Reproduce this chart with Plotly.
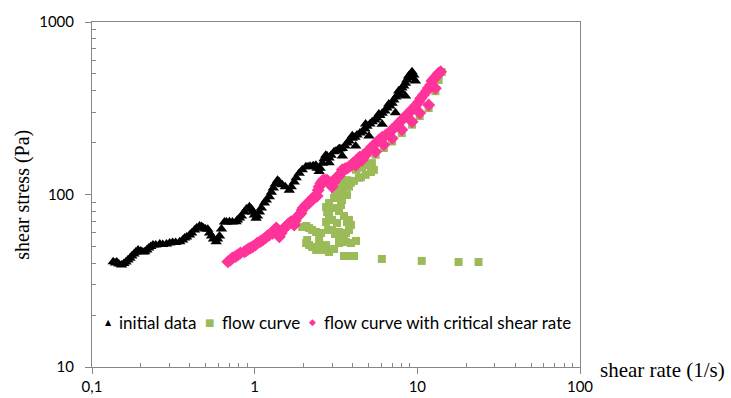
import plotly.graph_objects as go

# Shear rate (1/s) and shear stress (Pa) for the three measurement series
initial_rate = [0.135, 0.142, 0.152, 0.1615, 0.171, 0.181, 0.192, 0.211, 0.223, 0.237,
                0.261, 0.287, 0.313, 0.346, 0.371, 0.398, 0.427, 0.458, 0.485, 0.515,
                0.543, 0.580, 0.608, 0.625, 0.652, 0.700, 0.769, 0.806, 0.865, 0.928,
                0.968, 1.020, 1.069, 1.147, 1.230, 1.302, 1.383, 1.478, 1.632, 1.751,
                1.878, 2.065, 2.193, 2.377, 2.490, 2.608, 2.736, 2.867, 3.076, 3.254,
                3.458, 3.695, 3.982, 4.256, 4.586, 4.898, 5.279, 5.640, 6.078, 6.495,
                7.000, 7.375, 7.693, 8.026, 8.454, 8.858, 9.28, 9.4,
                2.736, 3.301, 3.982, 4.811, 5.80, 6.68, 7.693, 8.858,
                2.867, 3.458, 4.177, 5.040, 6.078, 7.34, 8.454, 9.736,
                0.1393, 0.1463, 0.1570, 0.1661, 0.1757, 0.1859, 0.1995, 0.2052, 0.2172, 0.2298,
                0.2465, 0.2721, 0.3003, 0.3268, 0.3608, 0.3817, 0.4098, 0.4395, 0.4718, 0.4990,
                0.5281, 0.5585, 0.5908, 0.6710, 0.7302, 0.7836, 0.8291, 0.8897, 0.9546, 0.9959,
                1.039, 1.099, 1.179, 1.266, 1.339, 1.417, 1.542, 1.678, 1.800, 1.960,
                2.132, 2.288, 2.420, 2.525, 2.672, 2.788, 2.949, 3.163, 3.347, 3.593,
                3.801, 4.137, 4.439, 4.764, 5.111, 5.484, 5.886, 6.317, 6.776, 7.169,
                7.586, 7.911, 8.254, 8.612, 9.112, 9.506]
initial_stress = [40.8, 40.6, 39.0, 40.6, 42.7, 45.2, 47.7, 46.6, 49.0, 50.9,
                  51.6, 51.6, 52.7, 53.2, 55.9, 58.2, 62.3, 65.7, 63.9, 62.9,
                  57.5, 53.2, 57.5, 63.1, 69.3, 69.6, 69.6, 73.1, 79.2, 85.0,
                  79.2, 72.8, 79.2, 89.3, 97.1, 109, 121, 114, 106, 118,
                  133, 145, 146, 148, 136, 152, 169, 163, 177, 181,
                  185, 199, 212, 221, 231, 249, 264, 278, 296, 317,
                  338, 367, 386, 414, 441, 480, 515, 474,
                  161, 184, 219, 256, 293, 335, 400, 488,
                  153, 167, 191, 218, 255, 298, 372, 455,
                  40.1, 39.6, 39.8, 41.7, 44.0, 46.4, 47.1, 46.4, 47.7, 49.9,
                  50.9, 51.3, 52.3, 52.7, 54.5, 56.7, 59.8, 63.9, 65.2, 63.1,
                  59.8, 55.2, 55.2, 69.3, 69.3, 71.2, 75.1, 82.4, 82.4, 76.1,
                  75.1, 83.5, 92.9, 103, 115, 118, 111, 111, 125, 139,
                  145, 147, 142, 142, 161, 167, 169, 179, 184, 191,
                  204, 215, 227, 240, 256, 270, 287, 305, 326, 353,
                  377, 398, 426, 461, 499, 493]

flow_rate = [3.119, 3.395, 3.695, 4.177, 4.764, 5.539, 6.226, 7.000, 8.026, 9.28,
             10.34, 11.74, 12.91, 13.52, 14.11,
             4.811, 5.257, 4.565, 4.196, 5.408, 4.811, 4.079, 3.444, 3.643, 3.801,
             3.163, 3.444, 3.301, 2.867, 3.444, 3.076, 2.788, 2.748, 3.542, 3.801,
             2.991, 2.748, 3.208, 3.910, 1.960, 2.073, 2.163, 2.387, 2.991, 3.301,
             3.643, 3.801, 2.102, 2.490, 2.748, 3.301, 3.643, 4.196, 2.163, 2.073,
             2.387, 2.597, 2.867, 3.542, 3.801, 4.079, 6.053, 10.64, 17.93, 23.77,
             2.256, 2.561, 2.827, 3.119, 2.256, 2.490, 3.076, 3.301, 3.910, 3.542,
             2.867, 3.301, 3.695, 3.076, 3.395, 3.910, 4.376, 4.256, 5.040, 5.183,
             4.502, 3.695, 3.208]
flow_stress = [103, 112, 121, 142, 156, 170, 186, 203, 227, 254,
               285, 317, 397, 461, 513,
               174, 152, 144, 139, 139, 130, 120, 121, 111, 111,
               106, 102, 98.0, 89.3, 92.9, 83.5, 79.2, 84.6, 75.1, 71.2,
               71.2, 69.3, 68.4, 66.6, 64.8, 65.7, 63.9, 60.6, 62.3, 60.6,
               59.8, 62.3, 54.5, 54.5, 50.9, 54.5, 53.0, 53.8, 50.9, 52.3,
               47.7, 47.7, 46.4, 44.0, 44.0, 44.0, 42.3, 41.2, 40.6, 40.6,
               62.3, 59.8, 62.3, 59.0, 49.6, 50.3, 48.3, 52.3, 52.3, 56.0,
               75.1, 80.2, 69.3, 95.4, 86.9, 117, 125, 142, 148, 135,
               126, 99.3, 111]

critical_rate = [0.684, 0.730, 0.787, 0.865, 0.915, 0.972, 1.039, 1.119, 1.196, 1.290,
                 1.358, 1.417, 1.478, 1.557, 1.671, 1.751, 1.826, 1.924, 1.987, 2.065,
                 2.163, 2.266, 2.377, 2.455, 2.551, 2.635, 2.788, 2.991, 3.150, 3.301,
                 3.458, 3.695, 3.910, 4.177, 4.439, 4.811, 5.040, 5.539, 6.078, 6.68,
                 7.34, 7.80, 8.45, 8.86, 9.37, 10.2, 10.9, 11.7, 12.3, 13.0,
                 13.5, 13.9,
                 4.177, 4.565, 5.539, 6.226, 7.000, 8.026, 9.28, 10.34, 11.74, 12.91,
                 0.7098, 0.7616, 0.8173, 0.8897, 0.9412, 1.010, 1.084, 1.163, 1.230, 1.320,
                 1.457, 1.520, 1.608, 1.702, 1.775, 1.878, 1.960, 2.102, 2.225, 2.321,
                 2.420, 2.490, 2.597, 2.710, 2.908, 3.076, 3.208, 3.395, 3.593, 3.801,
                 4.022, 4.315, 4.630, 4.898, 5.257, 5.80, 6.407, 6.970, 7.586, 8.139,
                 8.612, 9.112, 9.777, 10.49, 11.42, 12.08, 12.60, 13.33]
critical_stress = [40.8, 42.9, 44.6, 46.6, 48.3, 49.8, 52.3, 54.5, 57.5, 59.6,
                   63.9, 56.9, 62.3, 65.1, 69.6, 66.6, 74.1, 77.8, 83.5, 86.9,
                   89.3, 95.1, 97.1, 106, 116, 121, 121, 111, 124, 128,
                   139, 142, 148, 156, 165, 169, 181, 198, 215, 226,
                   247, 263, 282, 297, 313, 344, 377, 414, 455, 482,
                   504, 515,
                   148, 158, 177, 194, 212, 237, 264, 297, 330, 413,
                   41.7, 43.7, 45.8, 47.4, 49.0, 50.9, 53.4, 56.0, 58.2, 62.3,
                   59.8, 63.9, 67.5, 68.4, 70.2, 76.1, 81.3, 88.1, 92.9, 96.1,
                   98.0, 111, 119, 121, 117, 118, 126, 133, 141, 145,
                   152, 161, 167, 175, 189, 207, 221, 237, 256, 274,
                   289, 305, 328, 360, 398, 431, 467, 493]

x_ticks = [0.1, 1, 10, 100]
x_tick_labels = ["0,1", "1", "10", "100"]
y_ticks = [10, 100, 1000]
y_tick_labels = ["10", "100", "1000"]

series_names = ["initial data", "flow curve", "flow curve with critical shear rate"]

BLACK = "#000000"
GREEN = "#9BBB59"
PINK = "#FF3399"
AXIS = "#868686"
TICK_FONT = dict(family="Lato, Carlito, sans-serif", size=15, color="#000000")
SERIF_Y = dict(family="Liberation Serif, Times New Roman, serif", size=20, color="#000000")
SERIF_X = dict(family="Liberation Serif, Times New Roman, serif", size=21, color="#000000")

fig = go.Figure()
fig.add_trace(go.Scatter(x=initial_rate, y=initial_stress, mode="markers", name=series_names[0],
                         marker=dict(symbol="triangle-up", size=10, color=BLACK, line=dict(width=0))))
fig.add_trace(go.Scatter(x=flow_rate, y=flow_stress, mode="markers", name=series_names[1],
                         marker=dict(symbol="square", size=8, color=GREEN, line=dict(width=0))))
fig.add_trace(go.Scatter(x=critical_rate, y=critical_stress, mode="markers", name=series_names[2],
                         marker=dict(symbol="diamond", size=10, color=PINK, line=dict(width=0))))

minor_x = [m * 10 ** e for e in (-1, 0, 1) for m in range(2, 10)]
minor_y = [m * 10 ** e for e in (1, 2) for m in range(2, 10)]

fig.update_xaxes(type="log", range=[-1, 2], tickmode="array", tickvals=x_ticks, ticktext=x_tick_labels,
                 ticks="outside", ticklen=6, tickcolor=AXIS, tickwidth=1, automargin=False,
                 showline=True, linecolor=AXIS, linewidth=1, mirror=True,
                 showgrid=False, zeroline=False, tickfont=TICK_FONT,
                 minor=dict(tickmode="array", tickvals=minor_x, ticks="inside", ticklen=4,
                            tickcolor=AXIS, tickwidth=1, showgrid=False))
fig.update_yaxes(type="log", range=[1, 3], tickmode="array", tickvals=y_ticks, ticktext=y_tick_labels,
                 ticks="outside", ticklen=6, tickcolor=AXIS, tickwidth=1, automargin=False,
                 showline=True, linecolor=AXIS, linewidth=1, mirror=True,
                 showgrid=False, zeroline=False, tickfont=TICK_FONT, ticklabelstandoff=8,
                 minor=dict(tickmode="array", tickvals=minor_y, ticks="inside", ticklen=4,
                            tickcolor=AXIS, tickwidth=1, showgrid=False))

# Key placed inside the plot, along the bottom
key_font = dict(family="Lato, Carlito, sans-serif", size=17, color="#000000")
key_items = [("▲", BLACK, 8, 0.033, 0.051),
             ("■", GREEN, 10, 0.240, 0.262),
             ("◆", PINK, 9, 0.451, 0.471)]
annotations = []
for (glyph, color, gsize, gx, tx), label in zip(key_items, series_names):
    annotations.append(dict(xref="paper", yref="paper", x=gx, y=0.13, text=glyph, showarrow=False,
                            xanchor="center", yanchor="middle",
                            font=dict(family="DejaVu Sans", size=gsize, color=color)))
    annotations.append(dict(xref="paper", yref="paper", x=tx, y=0.13, text=label, showarrow=False,
                            xanchor="left", yanchor="middle", font=key_font))

annotations.append(dict(xref="paper", yref="paper", x=-0.143, y=0.5, text="shear stress (Pa)",
                        textangle=-90, showarrow=False, xanchor="center", yanchor="middle", font=SERIF_Y))
annotations.append(dict(xref="paper", yref="paper", x=1.037, y=-0.01, text="shear rate (1/s)",
                        showarrow=False, xanchor="left", yanchor="middle", font=SERIF_X))

fig.update_layout(width=731, height=398, margin=dict(l=92, r=151, t=22, b=31),
                  paper_bgcolor="white", plot_bgcolor="white", showlegend=False,
                  annotations=annotations)

fig.write_html("out.html")
